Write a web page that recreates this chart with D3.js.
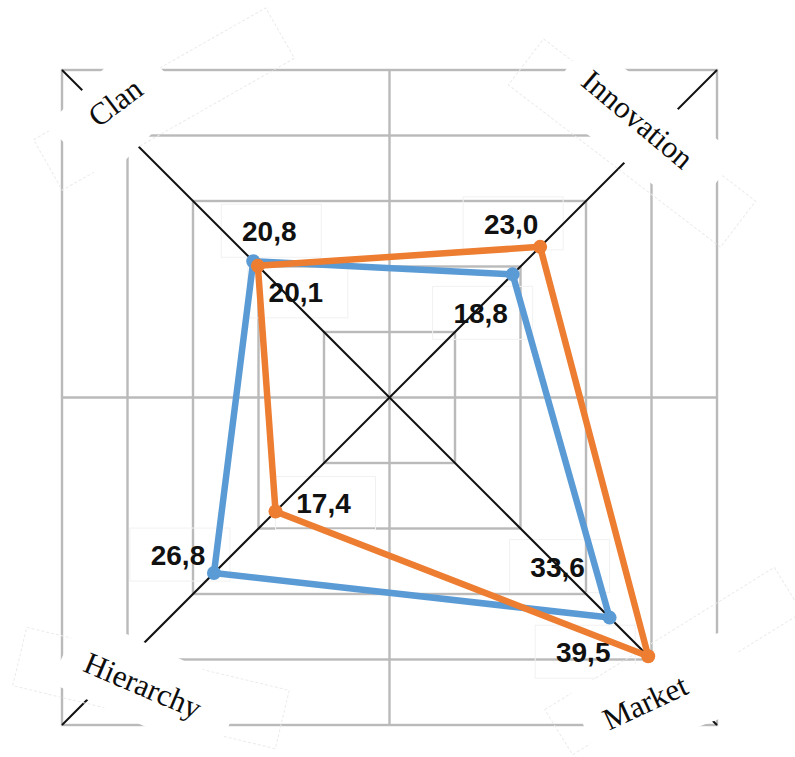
<!DOCTYPE html>
<html>
<head>
<meta charset="utf-8">
<script src="https://cdn.jsdelivr.net/npm/d3@7"></script>
<style>
  html, body { margin: 0; padding: 0; background: #fff; }
  svg { display: block; }
</style>
</head>
<body>
<svg id="chart" width="795" height="757"></svg>
<script>
// ---- data ----
const categories = ["Clan", "Innovation", "Market", "Hierarchy"];
const currentScores = [20.8, 18.8, 33.6, 26.8];
const preferredScores = [20.1, 23.0, 39.5, 17.4];
const gridLevels = [10, 20, 30, 40, 50];

// ---- layout ----
const width = 795, height = 757;
const cx = 389.5, cy = 397.5;
const outer = 327.5;
const axisDir = { Clan: [-1, -1], Innovation: [1, -1], Market: [1, 1], Hierarchy: [-1, 1] };

const series = [
  { name: "current", values: currentScores, color: "#5B9BD5",
    labelOffset: { Clan: [16, -30], Innovation: [-32, 39], Market: [-52, -51], Hierarchy: [-36, -18] } },
  { name: "preferred", values: preferredScores, color: "#ED7D31",
    labelOffset: { Clan: [38, 26], Innovation: [-29, -23], Market: [-65, -4], Hierarchy: [48, -8] } }
];

// rotated name tags at the four corners: text, opaque backing, faint frame
const cornerTags = {
  Clan:       { text: [115, 102, -37], mask: [118, 111, 121, 80, -45],   frame: [164, 99, 267, 58, -29.6] },
  Innovation: { text: [638, 119, 40],  mask: [640, 127.5, 188, 75, 37.5], frame: [632, 143, 267, 58, 37.4] },
  Market:     { text: [645, 702, -25], mask: [663.5, 696.6, 170, 81, -20.5], frame: [673.5, 661, 270, 53, -31.8] },
  Hierarchy:  { text: [143, 685, 23],  mask: [148, 686, 180, 76, 25],    frame: [151, 688, 270, 60, 13.5] }
};

const r = d3.scaleLinear().domain([0, 50]).range([0, outer]);
const fmt = d3.formatLocale({ decimal: ",", thousands: ".", grouping: [3], currency: ["", ""] }).format(".1f");

function pointFor(cat, v) {
  const d = axisDir[cat];
  return [cx + d[0] * r(v), cy + d[1] * r(v)];
}

const svg = d3.select("#chart");
svg.append("rect").attr("width", width).attr("height", height).attr("fill", "#fff");

// ---- grid: concentric squares and centre cross ----
const grid = svg.append("g").attr("fill", "none").attr("stroke", "#bababa").attr("stroke-width", 2.4);
grid.selectAll("rect").data(gridLevels).join("rect")
  .attr("x", d => cx - r(d)).attr("y", d => cy - r(d))
  .attr("width", d => 2 * r(d)).attr("height", d => 2 * r(d));
grid.append("line").attr("x1", cx).attr("x2", cx).attr("y1", cy - r(50)).attr("y2", cy + r(50));
grid.append("line").attr("x1", cx - r(50)).attr("x2", cx + r(50)).attr("y1", cy).attr("y2", cy);

// ---- value labels ----
const labelData = [];
series.forEach(s => {
  categories.forEach((c, i) => {
    const p = pointFor(c, s.values[i]);
    const o = s.labelOffset[c];
    labelData.push({ x: p[0] + o[0], y: p[1] + o[1], text: fmt(s.values[i]) });
  });
});
const labels = svg.append("g");
labels.selectAll("rect").data(labelData).join("rect")
  .attr("x", d => d.x - 48).attr("y", d => d.y - 27)
  .attr("width", 100).attr("height", 53)
  .attr("fill", "none").attr("stroke", "#f1f1f1").attr("stroke-width", 1);
labels.selectAll("text").data(labelData).join("text")
  .attr("x", d => d.x).attr("y", d => d.y + 10)
  .attr("text-anchor", "middle")
  .attr("font-family", "Liberation Sans, Arial, sans-serif")
  .attr("font-weight", "bold").attr("font-size", 28)
  .attr("fill", "#111")
  .text(d => d.text);

// ---- diagonal axes ----
svg.append("g").selectAll("line").data([["Clan", "Market"], ["Hierarchy", "Innovation"]]).join("line")
  .attr("x1", d => pointFor(d[0], 50)[0]).attr("y1", d => pointFor(d[0], 50)[1])
  .attr("x2", d => pointFor(d[1], 50)[0]).attr("y2", d => pointFor(d[1], 50)[1])
  .attr("stroke", "#111").attr("stroke-width", 2);

// ---- corner name tags ----
const tags = svg.append("g");
categories.forEach(c => {
  const t = cornerTags[c];
  const [fx, fy, fw, fh, fa] = t.frame;
  tags.append("rect")
    .attr("transform", `translate(${fx},${fy}) rotate(${fa})`)
    .attr("x", -fw / 2).attr("y", -fh / 2).attr("width", fw).attr("height", fh)
    .attr("fill", "none").attr("stroke", "#ebebeb").attr("stroke-width", 1)
    .attr("stroke-dasharray", "3,2");
  const [mx, my, mw, mh, ma] = t.mask;
  tags.append("rect")
    .attr("transform", `translate(${mx},${my}) rotate(${ma})`)
    .attr("x", -mw / 2).attr("y", -mh / 2).attr("width", mw).attr("height", mh)
    .attr("fill", "#fff");
  const [tx, ty, ta] = t.text;
  tags.append("text")
    .attr("transform", `translate(${tx},${ty}) rotate(${ta})`)
    .attr("text-anchor", "middle").attr("dy", "0.35em")
    .attr("font-family", "Liberation Serif, Times New Roman, serif")
    .attr("font-size", 31).attr("fill", "#0d0d0d")
    .text(c);
});

// ---- series polygons and markers ----
const line = d3.line().curve(d3.curveLinearClosed);
series.forEach(s => {
  const pts = categories.map((c, i) => pointFor(c, s.values[i]));
  const g = svg.append("g");
  g.append("path").attr("d", line(pts))
    .attr("fill", "none").attr("stroke", s.color)
    .attr("stroke-width", 6.5).attr("stroke-linejoin", "round");
  g.selectAll("circle").data(pts).join("circle")
    .attr("cx", d => d[0]).attr("cy", d => d[1]).attr("r", 7)
    .attr("fill", s.color);
});
</script>
</body>
</html>
